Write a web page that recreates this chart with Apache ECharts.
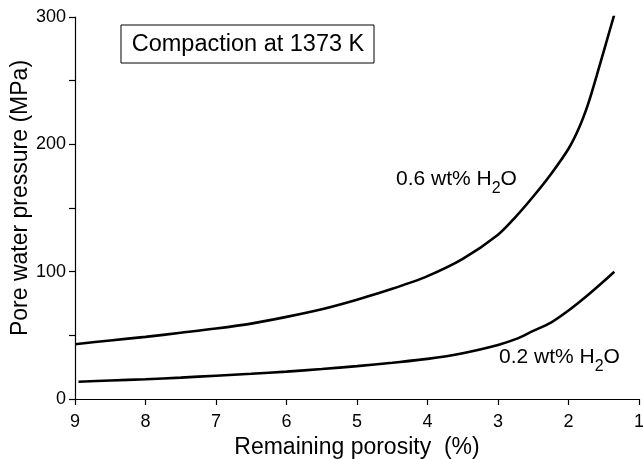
<!DOCTYPE html>
<html>
<head>
<meta charset="utf-8">
<script src="https://cdn.jsdelivr.net/npm/echarts@6/dist/echarts.min.js"></script>
<style>
	html, body { margin: 0; padding: 0; background: #fff; }
	#chart { width: 643px; height: 459px; }
</style>
</head>
<body>
<div id="chart"></div>
<script>
// porosity (%) and pore water pressure (MPa)
const porosityHigh = [9, 8.5, 8, 7.5, 7, 6.5, 6, 5.5, 5, 4.5, 4, 3.5, 3, 2.75, 2.5, 2.25, 2, 1.85, 1.72, 1.6, 1.48, 1.35];
const pressureHigh = [43, 46, 48.8, 52, 55.3, 59.2, 64.5, 70.5, 78, 86.5, 96.5, 110, 129, 143, 159, 176.5, 196.5, 213, 232, 254, 277, 302];
const porosityLow = [8.95, 8.5, 8, 7.5, 7, 6.5, 6, 5.5, 5, 4.5, 4, 3.5, 3, 2.75, 2.5, 2.25, 2, 1.75, 1.5, 1.35];
const pressureLow = [13.6, 14.5, 15.5, 16.8, 18.3, 19.8, 21.5, 23.5, 25.8, 28.5, 31.5, 36, 42.5, 47, 53.5, 60, 69.5, 80.5, 92.5, 100];
const xTicks = [1, 9, 1]; // min, max, step
const yTicks = [0, 300, 100];

const font = "'Liberation Sans', Arial, Helvetica, sans-serif";

function pairs(xs, ys) {
	return xs.map(function (x, i) {
		return [x, ys[i]];
	});
}

function curveLabel(text, x, y) {
	return {
		type: "text",
		x: x,
		y: y,
		style: {
			text: "{n|" + text + " H}{s|2}{n|O}",
			rich: {
				n: { fontFamily: font, fontSize: 21, fill: "#000", verticalAlign: "top", lineHeight: 28 },
				s: { fontFamily: font, fontSize: 16, fill: "#000", verticalAlign: "bottom", lineHeight: 28 },
			},
		},
	};
}

const option = {
	animation: false,
	backgroundColor: "#fff",
	grid: {
		left: 75,
		right: 4,
		top: 17,
		bottom: 60,
		containLabel: false,
		outerBoundsMode: "none",
	},
	xAxis: {
		type: "value",
		inverse: true,
		min: xTicks[0],
		max: xTicks[1],
		interval: xTicks[2],
		name: "Remaining porosity  (%)",
		nameLocation: "middle",
		nameGap: 29,
		nameTextStyle: { fontFamily: font, fontSize: 23, color: "#000" },
		axisLine: { onZero: false, lineStyle: { color: "#000", width: 1.2 } },
		axisTick: { length: 6, lineStyle: { color: "#000", width: 1.2 } },
		axisLabel: { margin: 14, fontFamily: font, fontSize: 18, color: "#000" },
		splitLine: { show: false },
	},
	yAxis: {
		type: "value",
		min: yTicks[0],
		max: yTicks[1],
		interval: yTicks[2],
		axisLine: { show: true, onZero: false, lineStyle: { color: "#000", width: 1.2 } },
		axisTick: { show: true, length: 6, lineStyle: { color: "#000", width: 1.2 } },
		minorTick: { show: true, splitNumber: 2, length: 6, lineStyle: { color: "#000", width: 1.2 } },
		axisLabel: { margin: 9, fontFamily: font, fontSize: 18, color: "#000" },
		splitLine: { show: false },
	},
	series: [
		{
			name: "0.6 wt% H2O",
			type: "line",
			smooth: 0.3,
			showSymbol: false,
			lineStyle: { color: "#000", width: 2.6 },
			data: pairs(porosityHigh, pressureHigh),
		},
		{
			name: "0.2 wt% H2O",
			type: "line",
			smooth: 0.3,
			showSymbol: false,
			lineStyle: { color: "#000", width: 2.6 },
			data: pairs(porosityLow, pressureLow),
		},
	],
	graphic: [
		{
			type: "text",
			x: 21,
			y: 198,
			rotation: Math.PI / 2,
			style: {
				text: "Pore water pressure (MPa)",
				font: "23px " + font,
				fill: "#000",
				align: "center",
				verticalAlign: "middle",
			},
		},
		{
			type: "rect",
			shape: { x: 121, y: 25, width: 253, height: 38 },
			style: { fill: "#fff", stroke: "#000", lineWidth: 1 },
		},
		{
			type: "text",
			x: 248,
			y: 45,
			style: {
				text: "Compaction at 1373 K",
				font: "23.5px " + font,
				fill: "#000",
				align: "center",
				verticalAlign: "middle",
			},
		},
		curveLabel("0.6 wt%", 396, 169),
		curveLabel("0.2 wt%", 499, 347),
	],
};

const chart = echarts.init(document.getElementById("chart"), null, { renderer: "canvas" });
chart.setOption(option);
</script>
</body>
</html>
